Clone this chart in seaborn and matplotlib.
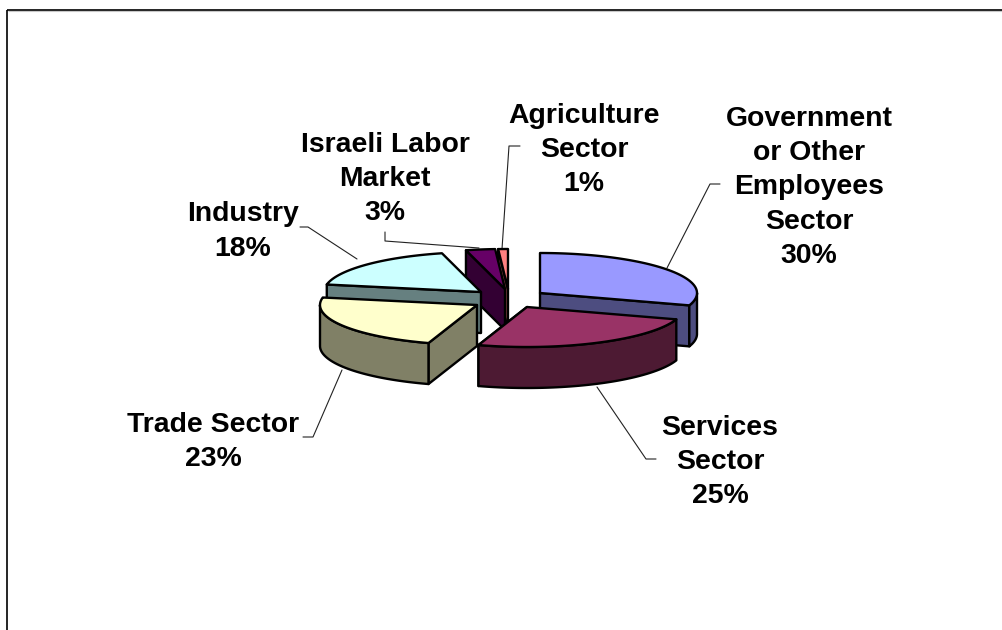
import numpy as np
import seaborn as sns
from matplotlib import pyplot as plt
from matplotlib.patches import Polygon

sectors = [['Government', 'or Other', 'Employees', 'Sector'], ['Services', 'Sector'], ['Trade Sector'],
           ['Industry'], ['Israeli Labor', 'Market'], ['Agriculture', 'Sector']]
shares = [30, 25, 23, 18, 3, 1]
top_colors = ['#9999FF', '#993366', '#FFFFCC', '#CCFFFF', '#660066', '#FF8080']

# layout of the exploded pie, in picture pixels
RX, RY, DEPTH = 157, 40, 41
apexes = [(540, 293), (527, 307), (477, 305), (481, 292), (505, 289), (508, 289)]
label_centers = [(809, 187.5), (720, 462), (213, 442), (243, 231.5), (385, 179), (584, 150)]
leaders = [[(667, 268), (710, 184), (720, 184)],
           [(597, 387), (646, 459), (656, 459)],
           [(342, 370), (313, 437), (303, 437)],
           [(357, 259), (308, 227), (300, 227)],
           [(479, 248), (385, 241), (385, 232)],
           [(502, 249), (509, 146), (520, 146)]]
# painter's order, back slices first
draw_order = [5, 4, 3, 0, 2, 1]

sns.set_theme(style='white')
plt.rcParams['font.family'] = ['Liberation Sans', 'DejaVu Sans']

fig = plt.figure(figsize=(10.02, 6.3), dpi=100)
ax = fig.add_axes([0, 0, 1, 1])
ax.set_xlim(0, 1002)
ax.set_ylim(630, 0)
ax.axis('off')


def rim(apex, a0, a1):
    t = np.radians(np.linspace(a0, a1, max(2, int(a1 - a0) + 2)))
    return np.column_stack([apex[0] + RX * np.sin(t), apex[1] - RY * np.cos(t)])


def face(pts, color, z):
    ax.add_patch(Polygon(pts, closed=True, facecolor=color, edgecolor='black',
                         linewidth=1.7, joinstyle='round', zorder=z))


edges = np.cumsum([0] + shares) / sum(shares) * 360
down = np.array([0, DEPTH])
for z, i in enumerate(draw_order):
    apex = np.array(apexes[i], dtype=float)
    a0, a1 = edges[i], edges[i + 1]
    base = 10 + z * 4
    top = rim(apex, a0, a1)
    wall = tuple(c * 0.5 for c in sns.color_palette([top_colors[i]])[0])

    # radial wall on the clockwise side, seen from the front for these angles
    if 90 < a1 < 270:
        face([apex, top[-1], top[-1] + down, apex + down], wall, base)
    # radial wall on the counter clockwise side
    if a0 > 180:
        face([apex, top[0], top[0] + down, apex + down], wall, base)
    # outer wall, only the front half of the rim
    lo, hi = max(a0, 90), min(a1, 270)
    if lo < hi:
        arc = rim(apex, lo, hi)
        face(np.vstack([arc, arc[::-1] + down]), wall, base + 1)
    face(np.vstack([apex, top]), top_colors[i], base + 2)

for pts in leaders:
    xs, ys = zip(*pts)
    ax.plot(xs, ys, color='#222222', linewidth=0.8, zorder=5)

for name, share, (x, y) in zip(sectors, shares, label_centers):
    ax.text(x, y, '\n'.join(name + [f'{share}%']), ha='center', va='center', fontsize=20.4,
            fontweight='bold', color='black', linespacing=1.42, zorder=60)

# chart frame, cut by the edge of the picture
ax.plot([7, 7], [630, 9.5], color='black', linewidth=1.2, solid_capstyle='butt', zorder=2)
ax.plot([7, 1002], [9.5, 9.5], color='black', linewidth=1.2, solid_capstyle='butt', zorder=2)
ax.plot([8, 1002], [11, 11], color='#C8C8C8', linewidth=0.8, solid_capstyle='butt', zorder=1)

fig.savefig('out.png', dpi=100, facecolor='white')
